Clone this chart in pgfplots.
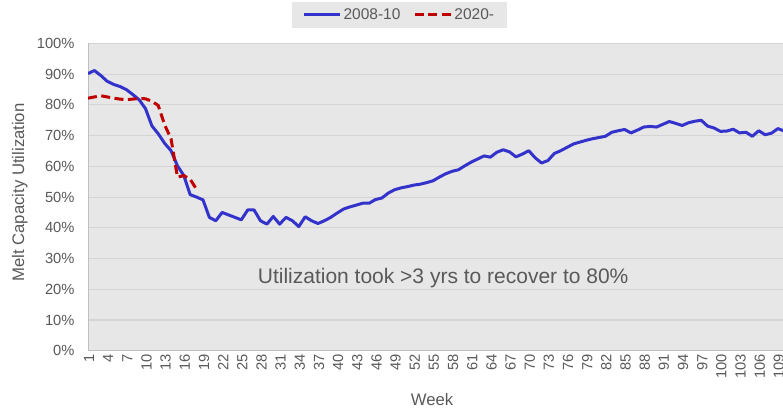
\documentclass[border=0pt]{standalone}
\usepackage{pgfplots}
\pgfplotsset{compat=1.18}
\usepackage{fontspec}
\setmainfont{Liberation Sans}
\definecolor{txt}{HTML}{595959}
\definecolor{bg}{HTML}{E7E7E7}
\definecolor{gridc}{HTML}{D4D4D4}
\definecolor{axc}{HTML}{BFBFBF}
\definecolor{bl}{RGB}{51,51,204}
\definecolor{rd}{HTML}{C00000}
\pgfplotstableread{
w v
1 90.2
2 91.2
3 89.6
4 87.7
5 86.7
6 86.0
7 85.0
8 83.4
9 81.7
10 78.8
11 73.2
12 70.6
13 67.5
14 65.1
15 60.2
16 57.0
17 50.8
18 50.0
19 49.1
20 43.4
21 42.3
22 45.0
23 44.2
24 43.4
25 42.6
26 45.8
27 45.8
28 42.3
29 41.2
30 43.7
31 41.2
32 43.4
33 42.3
34 40.4
35 43.6
36 42.3
37 41.4
38 42.3
39 43.4
40 44.8
41 46.1
42 46.8
43 47.4
44 48.0
45 48.0
46 49.2
47 49.7
48 51.3
49 52.4
50 53.0
51 53.4
52 53.9
53 54.2
54 54.7
55 55.3
56 56.5
57 57.6
58 58.4
59 58.9
60 60.2
61 61.4
62 62.4
63 63.4
64 63.0
65 64.6
66 65.4
67 64.7
68 63.1
69 64.0
70 65.1
71 62.8
72 61.1
73 61.9
74 64.2
75 65.1
76 66.2
77 67.3
78 67.9
79 68.5
80 69.0
81 69.4
82 69.8
83 71.1
84 71.6
85 72.0
86 70.9
87 71.8
88 72.8
89 73.0
90 72.8
91 73.7
92 74.6
93 74.0
94 73.3
95 74.2
96 74.7
97 75.0
98 73.1
99 72.5
100 71.4
101 71.5
102 72.1
103 70.9
104 71.1
105 69.8
106 71.6
107 70.3
108 70.8
109 72.3
110 71.5
}\bluedata
\pgfplotstableread{
w v
1 82.2
2 82.6
3 83.0
4 82.6
5 82.2
6 81.9
7 81.7
8 81.9
9 82.1
10 82.0
11 81.2
12 79.8
13 73.5
14 69.0
15 56.5
16 57.0
17 55.8
18 52.5
}\reddata
\begin{document}
\begin{tikzpicture}[x=1pt,y=1pt]
\path[use as bounding box] (0,0) rectangle (783,414);
\begin{axis}[
  at={(88pt,63.3pt)}, anchor=south west,
  scale only axis, width=695pt, height=307.2pt,
  xmin=1, xmax=109.8, ymin=0, ymax=100,
  axis background/.style={fill=bg},
  axis x line*=bottom, axis y line*=left,
  axis line style={draw=axc, line width=1pt},
  ytick={0,10,...,100},
  yticklabel={\pgfmathprintnumber{\tick}\%},
  xtick={1,4,...,109},
  major tick length=0pt,
  ymajorgrids, grid style={draw=gridc, line width=1.1pt},
  tick label style={font=\fontsize{14.7}{16}\selectfont, text=txt, /pgf/number format/assume math mode=true},
  yticklabel style={xshift=-10pt},
  xticklabel style={rotate=90, anchor=east, yshift=-1pt},
  ylabel={Melt Capacity Utilization},
  ylabel style={at={(axis description cs:-0.098,0.515)}, anchor=center, font=\fontsize{16.7}{18}\selectfont, text=txt},
  xlabel={Week},
  xlabel style={at={(axis description cs:0.495,-0.158)}, anchor=center, font=\fontsize{16.7}{18}\selectfont, text=txt},
  legend columns=2,
  legend style={at={(axis description cs:0.448,1.093)}, anchor=center, fill=bg, draw=none,
    font=\fontsize{15.5}{17}\selectfont, text=txt, inner xsep=11pt, inner ysep=4.5pt,
    /tikz/every even column/.append style={column sep=11pt},
    nodes={inner xsep=2pt}},
  legend image code/.code={\draw[#1] (0pt,0pt) -- (36pt,0pt);},
  clip=true,
]
\addplot[bl, line width=3pt, line join=round] table[x=w,y=v] {\bluedata};
\addlegendentry{2008-10}
\addplot[rd, line width=3pt, dash pattern=on 9pt off 4.5pt] table[x=w,y=v] {\reddata};
\addlegendentry{2020-}
\node[font=\fontsize{21}{23}\selectfont, text=txt] at (axis cs:56.6,23.7) {Utilization took >3 yrs to recover to 80\%};
\end{axis}
\end{tikzpicture}
\end{document}
